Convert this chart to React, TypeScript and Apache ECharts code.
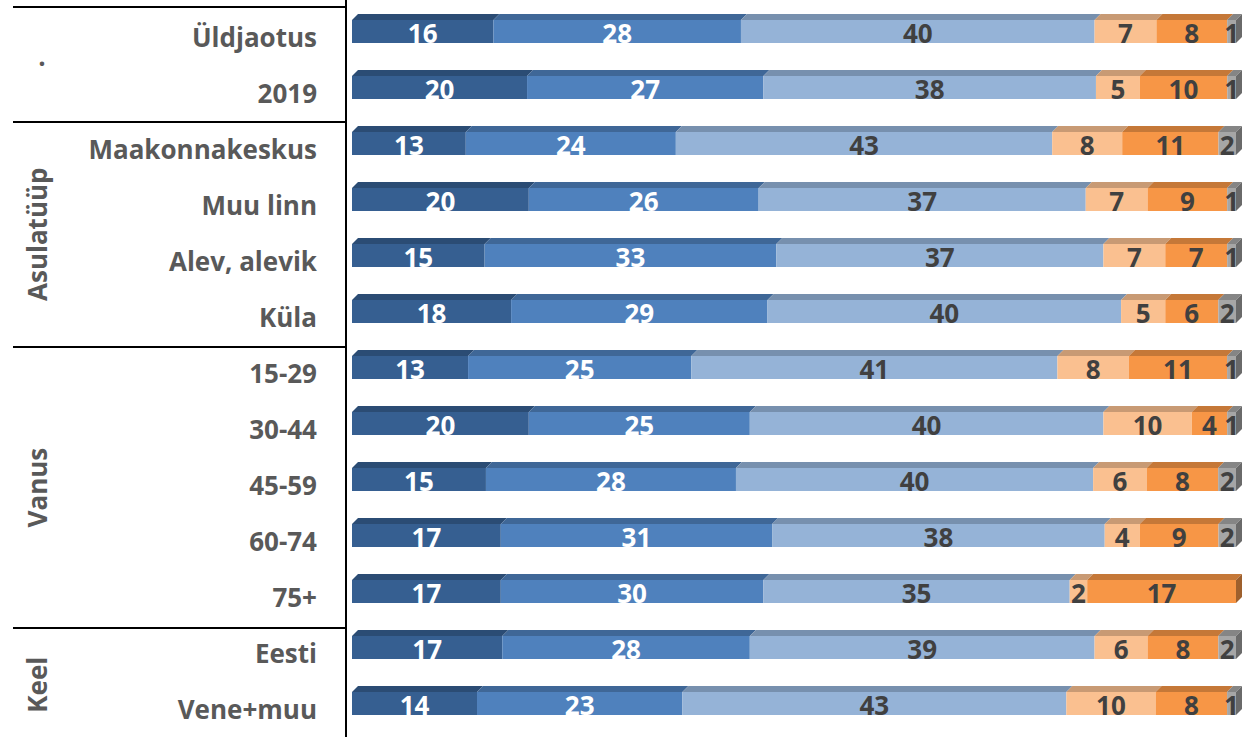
import React, { useEffect, useRef } from "react";
import * as echarts from "echarts";

const categories = [
  "Üldjaotus", "2019", "Maakonnakeskus", "Muu linn", "Alev, alevik", "Küla",
  "15-29", "30-44", "45-59", "60-74", "75+", "Eesti", "Vene+muu",
];
const s1 = [16, 20, 13, 20, 15, 18, 13, 20, 15, 17, 17, 17, 14];
const s2 = [28, 27, 24, 26, 33, 29, 25, 25, 28, 31, 30, 28, 23];
const s3 = [40, 38, 43, 37, 37, 40, 41, 40, 40, 38, 35, 39, 43];
const s4 = [7, 5, 8, 7, 7, 5, 8, 10, 6, 4, 2, 6, 10];
const s5 = [8, 10, 11, 9, 7, 6, 11, 4, 8, 9, 17, 8, 8];
const s6 = [1, 1, 2, 1, 1, 2, 1, 1, 2, 2, 0, 2, 1];
const seriesValues = [s1, s2, s3, s4, s5, s6];

// groups: label, first category index, count
const groupLabels = [".", "Asulatüüp", "Vanus", "Keel"];
const groupStarts = [0, 2, 6, 11];
const groupSizes = [2, 4, 5, 2];

const frontColors = ["#365f91", "#4f81bd", "#95b3d7", "#fac090", "#f79646", "#a6a6a6"];
const topColors = ["#2b4c74", "#3f6797", "#7790ae", "#c89a74", "#c57838", "#858585"];
const sideColors = ["#223c5c", "#325278", "#5f738b", "#a07b5d", "#9e602d", "#6a6a6a"];
const labelColors = ["#ffffff", "#ffffff", "#404040", "#404040", "#404040", "#404040"];

const FONT = '"Open Sans", "DejaVu Sans", sans-serif';

export default function App() {
  const ref = useRef<HTMLDivElement>(null);

  useEffect(() => {
    if (!ref.current) return;
    const chart = echarts.init(ref.current, undefined, { renderer: "svg" });

    const W = 1244;
    const gridTop = 9;
    const gridHeight = 732;
    const band = gridHeight / categories.length;
    const axisX = 346;

    const rowSums = categories.map((_, i) =>
      seriesValues.reduce((a, s) => a + s[i], 0)
    );

    const series = seriesValues.map((vals, si) => {
      const data = vals.map((v, ci) => {
        let before = 0;
        for (let k = 0; k < si; k++) before += seriesValues[k][ci];
        const start = (before / rowSums[ci]) * 100;
        const end = ((before + v) / rowSums[ci]) * 100;
        return [ci, start, end, v];
      });
      return {
        type: "custom",
        name: "Vastus " + (si + 1),
        data,
        encode: { x: [1, 2], y: 0 },
        renderItem: (params: any, api: any) => {
          const cat = api.value(0);
          const start = api.value(1);
          const end = api.value(2);
          const v = api.value(3);
          if (!(v > 0)) return { type: "group", children: [] };
          const p0 = api.coord([start, cat]);
          const p1 = api.coord([end, cat]);
          const yc = p0[1];
          const h = 23;
          const d = 6;
          const yF = yc - 17;
          const x0 = p0[0];
          const x1 = p1[0];
          const children: any[] = [
            {
              type: "polygon",
              shape: { points: [[x0, yF], [x0 + d, yF - d], [x1 + d, yF - d], [x1, yF]] },
              style: { fill: topColors[si] },
            },
            {
              type: "rect",
              shape: { x: x0, y: yF, width: x1 - x0, height: h },
              style: { fill: frontColors[si] },
            },
          ];
          if (end >= 99.999) {
            children.push({
              type: "polygon",
              shape: { points: [[x1, yF], [x1 + d, yF - d], [x1 + d, yF + h - d], [x1, yF + h]] },
              style: { fill: sideColors[si] },
            });
          }
          children.push({
            type: "text",
            style: {
              text: String(v),
              x: (x0 + x1) / 2,
              y: yF + h / 2 + 1,
              textAlign: "center",
              textVerticalAlign: "middle",
              fill: labelColors[si],
              font: "bold 26px " + FONT,
            },
          });
          return { type: "group", children };
        },
      };
    });

    const graphics: any[] = [
      {
        type: "line",
        shape: { x1: axisX, y1: 0, x2: axisX, y2: 737 },
        style: { stroke: "#000000", lineWidth: 2 },
      },
      {
        type: "line",
        shape: { x1: 13, y1: 7, x2: axisX, y2: 7 },
        style: { stroke: "#000000", lineWidth: 2 },
      },
    ];
    groupStarts.forEach((gs, gi) => {
      if (gi > 0) {
        const y = Math.round(gridTop + gs * band);
        graphics.push({
          type: "line",
          shape: { x1: 13, y1: y, x2: axisX, y2: y },
          style: { stroke: "#000000", lineWidth: 2 },
        });
      }
      const yMid = gridTop + (gs + groupSizes[gi] / 2) * band;
      graphics.push({
        type: "text",
        x: gi === 0 ? 42 : 37,
        y: gi === 0 ? yMid - 9 : yMid,
        rotation: gi === 0 ? 0 : Math.PI / 2,
        style: {
          text: groupLabels[gi],
          textAlign: "center",
          textVerticalAlign: "middle",
          fill: "#595959",
          font: "bold 26px " + FONT,
        },
      });
    });

    chart.setOption({
      animation: false,
      grid: { left: 352, right: W - 1236, top: gridTop, height: gridHeight, containLabel: false },
      xAxis: { type: "value", min: 0, max: 100, show: false },
      yAxis: {
        type: "category",
        data: categories,
        inverse: true,
        axisLine: { show: false },
        axisTick: { show: false },
        splitLine: { show: false },
        axisLabel: {
          margin: 35,
          fontFamily: FONT,
          fontWeight: "bold",
          fontSize: 26,
          color: "#595959",
        },
      },
      graphic: graphics,
      series,
    });

    return () => chart.dispose();
  }, []);

  return (
    <div
      ref={ref}
      style={{ position: "fixed", left: 0, top: 0, width: 1244, height: 737, background: "#ffffff" }}
    />
  );
}
